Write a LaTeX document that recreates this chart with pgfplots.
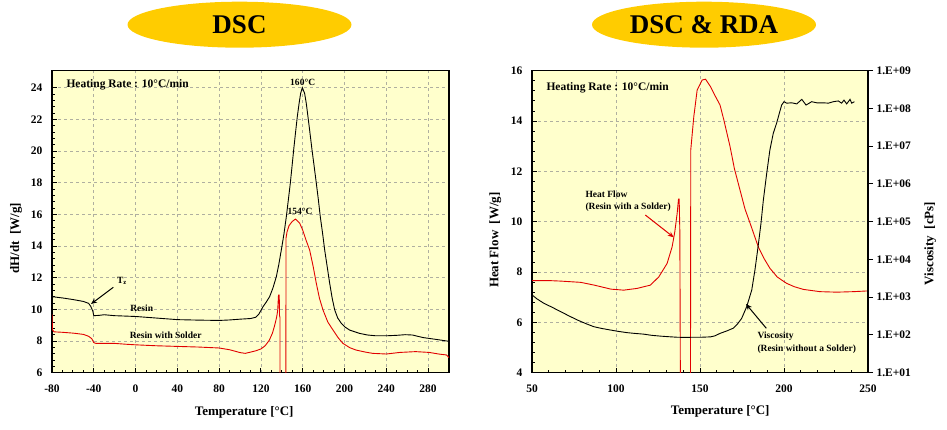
\documentclass[border=0pt]{standalone}
\usepackage{fontspec}
\setmainfont{Liberation Serif}
\usepackage{pgfplots}
\pgfplotsset{compat=1.18}
\usetikzlibrary{arrows.meta}
\definecolor{bgy}{RGB}{255,255,204}
\definecolor{gold}{RGB}{255,204,0}
\definecolor{gridc}{RGB}{175,175,160}
\definecolor{dscred}{RGB}{225,0,0}
\pgfplotsset{
  dscstyle/.style={
    scale only axis, anchor=south west,
    axis line style={line width=1.5pt},
    tick style={line width=0.9pt, black},
    major tick length=5pt, minor tick length=3pt,
    tick align=inside,
    xtick pos=bottom, ytick pos=left,
    grid=major,
    major grid style={gridc, dash pattern=on 3pt off 3pt, line width=0.6pt},
    ticklabel style={font=\fontsize{11.5}{12}\selectfont\bfseries},
    /pgf/number format/assume math mode=true,
    xticklabel style={yshift=-9pt},
    yticklabel style={xshift=-6pt},
    label style={font=\fontsize{13}{14}\selectfont\bfseries},
  }
}
\begin{document}
\begin{tikzpicture}
\path[use as bounding box] (0pt,0pt) rectangle (947pt,430pt);
% titles
\fill[gold] (239.5pt,405.3pt) ellipse [x radius=112pt, y radius=23pt];
\node[font=\fontsize{27}{30}\selectfont\bfseries] at (239.5pt,405pt) {DSC};
\fill[gold] (704pt,405.3pt) ellipse [x radius=112pt, y radius=23pt];
\node[font=\fontsize{27}{30}\selectfont\bfseries] at (704pt,405pt) {DSC \& RDA};

% ---------------- left chart ----------------
\begin{axis}[dscstyle, at={(52pt,57.3pt)}, width=397pt, height=302pt,
  xmin=-80, xmax=300, ymin=6, ymax=25.07,
  xtick={-80,-40,...,280}, ytick={6,8,...,24},
  minor x tick num=3, minor y tick num=4,
  axis background/.style={fill=bgy},
  xlabel={Temperature [°C]}, ylabel={dH/dt~~[W/g]},
  xlabel style={at={(axis description cs:0.484,-0.1325)},anchor=center},
  ylabel style={at={(axis description cs:-0.0907,0.445)},anchor=center},
]
\addplot[black, line width=0.9pt] coordinates {
(-80,10.8) (-70,10.72) (-60,10.62) (-50,10.5) (-45,10.38) (-43,10.2) (-41,9.9) (-40,9.6)
(-35,9.62) (-30,9.66) (-20,9.6) (0,9.55) (20,9.45) (40,9.35) (60,9.32) (80,9.3) (90,9.33)
(100,9.38) (110,9.42) (115,9.5) (118,9.7) (122,10.17) (125,10.45) (128.3,10.8) (131.5,11.35)
(134.7,12.06) (137,12.8) (139.5,13.75) (142,14.75) (144.3,15.85) (146.2,16.9) (148.1,17.96)
(149.7,19.0) (151.3,20.06) (153,21.1) (154.8,22.17) (156.5,23.0) (158,23.64) (159.6,24.0)
(161.8,23.64) (163.4,23.0) (165,22.17) (167,21.1) (168.9,20.06) (171,19.0) (173,17.96)
(175,16.9) (176.8,15.85) (179,14.8) (181,13.75) (183.4,12.7) (185.8,11.64) (188.2,10.7)
(190.6,9.96) (193.5,9.45) (196.9,9.12) (200.5,8.88) (204.9,8.69) (214.5,8.48) (222,8.38)
(230,8.33) (240,8.33) (250,8.36) (258,8.4) (265,8.38) (275,8.22) (290,8.08) (300,7.98)
};
\addplot[dscred, line width=0.9pt] coordinates {
(-80,9.7) (-79.5,8.7) (-78,8.58) (-70,8.55) (-60,8.5) (-50,8.42) (-45,8.3) (-42,8.15)
(-40,7.9) (-38,7.85) (-20,7.85) (-10,7.8) (0,7.76) (20,7.7) (40,7.66) (60,7.62) (80,7.56)
(90,7.45) (100,7.27) (105,7.22) (110,7.3) (115,7.38) (120,7.5) (124,7.7) (128,8.05)
(131,8.5) (133,8.95) (135,9.5) (136,9.9) (136.8,10.9) (137.5,10.9) (137.8,9.6) (138.2,9.5)
(138.4,-10) (143.6,-10) (144,14.5) (145,14.9) (147,15.3) (150,15.55) (153,15.7)
(157,15.45) (160,15.0) (163,14.4) (166.6,13.75) (170,12.7) (173,11.64) (176,10.7)
(179.4,9.96) (184,9.2) (189,8.69) (194,8.2) (198.5,7.85) (205,7.58) (211,7.43) (220,7.3)
(227,7.22) (240,7.18) (253,7.28) (268,7.33) (281,7.28) (290,7.18) (297.5,7.12) (300,6.95)
};
\end{axis}

% ---------------- right chart ----------------
\begin{axis}[dscstyle, at={(532pt,57.3pt)}, width=336pt, height=302pt,
  xmin=50, xmax=250, ymin=4, ymax=16,
  xtick={50,100,...,250}, ytick={4,6,...,16},
  minor x tick num=4, minor y tick num=4,
  axis background/.style={fill=bgy},
  xlabel={Temperature [°C]}, ylabel={Heat Flow~~[W/g]},
  xlabel style={at={(axis description cs:0.56,-0.129)},anchor=center},
  ylabel style={at={(axis description cs:-0.109,0.439)},anchor=center},
]
\addplot[dscred, line width=0.9pt] coordinates {
(50,7.66) (60,7.66) (67,7.64) (79,7.59) (87,7.48) (97,7.32) (104.6,7.28) (112.6,7.35)
(120.5,7.48) (125.5,7.81) (130.4,8.34) (133.4,9.0) (135,9.6) (136.4,10.33) (137.2,10.9)
(137.6,10.9) (138,9.6) (138.4,2) (144.3,2) (144.5,12.85) (146.3,14.17) (148.3,15.23)
(151.3,15.63) (153.3,15.66) (156.3,15.36) (159,15.0) (161.9,14.64) (164.2,14.04)
(167.9,12.98) (170.5,12.1) (173.8,11.26) (176.8,10.5) (179.8,9.94) (184.7,9.0) (188,8.55)
(191.6,8.15) (196,7.8) (201.6,7.55) (206,7.42) (211.5,7.31) (221.4,7.22) (231.4,7.2)
(241.3,7.22) (250,7.25)
};
\end{axis}
\begin{axis}[scale only axis, anchor=south west, at={(532pt,57.3pt)}, width=336pt, height=302pt,
  xmin=50, xmax=250, ymode=log, ymin=10, ymax=1e9,
  axis x line=none, axis y line*=right,
  axis line style={line width=1.5pt},
  tick style={line width=0.9pt, black},
  tick align=outside, major tick length=5pt, yminorticks=false,
  ytick={1e1,1e2,1e3,1e4,1e5,1e6,1e7,1e8,1e9},
  yticklabels={1.E+01,1.E+02,1.E+03,1.E+04,1.E+05,1.E+06,1.E+07,1.E+08,1.E+09},
  ticklabel style={font=\fontsize{11.5}{12}\selectfont\bfseries},
  ylabel={Viscosity~~[cPs]},
  label style={font=\fontsize{13}{14}\selectfont\bfseries},
  ylabel style={at={(axis description cs:1.185,0.428)},anchor=center},
]
\addplot[black, line width=0.9pt] coordinates {
(50,1148) (53,900) (57,692) (62,540) (66.9,417) (72,320) (76.8,251) (82,200) (86.7,166)
(91,150) (96.7,135) (101,125) (106.6,115) (111,110) (116.5,105) (121,98) (126.5,93)
(131,90) (136.4,87) (141,86) (146.3,87) (151,87) (156.3,89) (159,95) (161.9,110) (166,128)
(169.8,151) (172.5,200) (174.8,275) (177.8,562) (180.8,1549) (182.7,5248) (184.3,17780)
(185.3,39810) (186.3,91200) (187.7,371500) (189.7,1.905e6) (191.6,7.94e6) (193.6,2.19e7)
(195.6,4.07e7) (197.2,7.41e7) (198.6,1.23e8) (200,1.51e8) (201.6,1.38e8) (204.6,1.41e8)
(207.6,1.32e8) (210.6,1.74e8) (213.1,1.23e8) (216.5,1.51e8) (219.5,1.41e8) (223.4,1.41e8)
(226.4,1.38e8) (229.4,1.51e8) (232.3,1.58e8) (234.3,1.38e8) (235.7,1.66e8) (237.3,1.32e8)
(239.3,1.74e8) (240.3,1.38e8) (241.9,1.51e8)
};
\end{axis}

% ---------------- annotations ----------------
\begin{scope}[font=\fontsize{11.5}{12}\selectfont\bfseries]
\node[anchor=west] at (63pt,345.7pt) {Heating Rate : 10°C/min};
\node[anchor=west] at (543pt,342.3pt) {Heating Rate : 10°C/min};
\end{scope}
\begin{scope}[font=\fontsize{9.5}{11}\selectfont\bfseries]
\node at (302.7pt,347.7pt) {160°C};
\node at (300pt,218.3pt) {154°C};
\node at (122pt,149pt) {T\textsubscript{z}};
\node at (141.7pt,121.7pt) {Resin};
\node at (165.7pt,94.3pt) {Resin with Solder};
\node[anchor=west] at (582pt,235.7pt) {Heat Flow};
\node[anchor=west] at (582pt,222.7pt) {(Resin with a Solder)};
\node[anchor=west] at (754pt,93.3pt) {Viscosity};
\node[anchor=west] at (754pt,80.7pt) {(Resin without a Solder)};
\end{scope}
\draw[line width=1pt, -{Stealth[length=6pt,width=5pt]}] (113.3pt,142.7pt) -- (91pt,126pt);
\draw[dscred, line width=1pt, -{Stealth[length=6pt,width=5pt]}] (645.3pt,215pt) -- (673.7pt,192.7pt);
\draw[line width=1pt, -{Stealth[length=6pt,width=5pt]}] (766.3pt,101.7pt) -- (746pt,126pt);
\end{tikzpicture}
\end{document}
